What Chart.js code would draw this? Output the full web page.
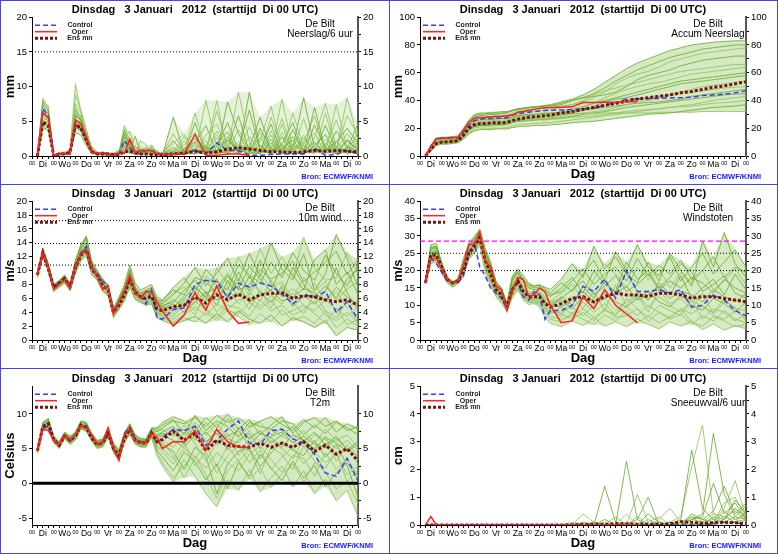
<!DOCTYPE html>
<html>
<head>
<meta charset="utf-8">
<title>EPS De Bilt</title>
<script src="https://cdn.jsdelivr.net/npm/chart.js@4.4.1/dist/chart.umd.min.js"></script>
<style>
body { margin: 0; background: #fff; }
#wrap { position: relative; width: 778px; height: 554px; overflow: hidden; }
#wrap canvas { position: absolute; }
.line { position: absolute; background: #4646f0; z-index: 5; }
</style>
</head>
<body>
<div id="wrap">
  <canvas id="c1" width="390" height="185" style="left:0;top:0"></canvas>
  <canvas id="c2" width="390" height="185" style="left:388px;top:0"></canvas>
  <canvas id="c3" width="390" height="185" style="left:0;top:184px"></canvas>
  <canvas id="c4" width="390" height="185" style="left:388px;top:184px"></canvas>
  <canvas id="c5" width="390" height="185" style="left:0;top:369px"></canvas>
  <canvas id="c6" width="390" height="185" style="left:388px;top:369px"></canvas>
  <div class="line" style="left:0;top:0;width:778px;height:1px"></div>
  <div class="line" style="left:0;top:553px;width:778px;height:1px"></div>
  <div class="line" style="left:0;top:0;width:1px;height:554px"></div>
  <div class="line" style="left:777px;top:0;width:1px;height:554px"></div>
  <div class="line" style="left:389px;top:0;width:1px;height:554px"></div>
  <div class="line" style="left:0;top:184px;width:778px;height:1px"></div>
  <div class="line" style="left:0;top:368px;width:778px;height:1px"></div>
</div>
<script>
// forecast hours after Di 3 jan 00 UTC
const hours = [6,12,18,24,30,36,42,48,54,60,66,72,78,84,90,96,102,108,114,120,126,132,138,144,
  156,168,180,192,204,216,228,240,252,264,276,288,300,312,324,336,348,360];
const dayNames = ["Di","Wo","Do","Vr","Za","Zo","Ma","Di","Wo","Do","Vr","Za","Zo","Ma","Di"];
const title = "Dinsdag   3 Januari   2012  (starttijd  Di 00 UTC)";

// ---- neerslag / 6 uur (mm)
const precipControl = [0,6.8,5.8,0,0.3,0.3,0.3,4.3,4.0,2.5,0.8,0.3,0.5,0.3,0.2,0.3,2.2,1.2,0.3,0.5,0.8,0.8,0.5,0.2,
  0.2,0.3,0.8,0.3,1.9,0.8,0.8,0.1,0.1,0.2,0.3,0.3,0.3,1.1,0.1,0.2,0.8,0.3];
const precipOper = [0,6.2,5.6,0,0.3,0.3,0.3,5.2,4.7,2.8,0.5,0.4,0.4,0.2,0.1,0.3,0.4,2.4,0.5,0.8,0.8,0.8,0.3,0.2,
  0.2,0.3,3.1,0.1,0.1,0.3,0.3,0.1];
const precipMean = [0,4.9,4.4,0,0.3,0.3,0.5,4.6,4.0,2.3,0.6,0.3,0.3,0.3,0.2,0.2,0.6,0.7,0.5,0.3,0.3,0.2,0.2,0.2,
  0.3,0.4,0.7,0.4,0.6,1.0,1.2,1.0,0.8,0.6,0.6,0.5,0.6,0.8,0.7,0.8,0.7,0.6];
const precipMembers = [
  [0,7.8,6.5,0,0.2,0.4,0.6,5.8,5.2,2.2,0.6,0.2,0.3,0.1,0.2,0.4,3.8,1.5,0.3,0.8,1.2,0.6,0.2,0.1, 0.3,0.5,2.5,1.2,0.3,7.8,3.2,0.5,1.5,0.2,2.8,0.6,0.2,4.5,1.2,0.3,2.2,0.8],
  [0,5.2,4.6,0,0.5,0.6,1.0,10.4,6.4,3.2,1.1,0.4,0.6,0.3,0.1,0.3,2.5,3.6,1.0,0.4,0.3,0.4,0.1,0.3, 0.1,1.2,0.6,3.0,4.6,0.8,9.2,2.1,0.4,3.6,0.5,6.2,1.4,0.5,0.6,7.4,1.0,2.6],
  [0,4.2,3.6,0.1,0.3,0.2,0.3,4.2,3.6,1.8,0.4,0.2,0.2,0.3,0.4,0.8,1.6,0.6,1.4,0.6,0.8,0.3,0.2,0.1, 5.6,0.3,1.0,0.2,1.8,3.5,0.4,1.2,5.6,0.8,1.1,2.3,0.3,1.5,3.1,0.4,1.1,4.6],
  [0,8.3,6.8,0.2,0.4,0.3,0.6,6.8,5.6,3.6,0.9,0.3,0.4,0.2,0.2,0.2,4.4,2.2,0.6,1.4,0.4,0.8,0.3,0.2, 1.8,3.2,0.4,8.0,1.2,0.3,1.6,0.3,3.4,0.6,8.2,0.9,1.6,0.5,2.4,0.9,3.2,1.2],
  [0,6.0,5.5,0,0.1,0.5,0.4,3.4,3.0,1.5,0.3,0.5,0.2,0.1,0.3,0.6,0.8,1.2,2.8,0.4,0.2,1.6,0.4,0.2, 0.6,0.2,4.8,0.4,0.5,1.1,5.8,0.6,0.3,1.9,0.4,3.8,0.5,7.0,0.8,2.1,0.3,1.0],
  [0,5.6,5.0,0,0.2,0.3,0.7,7.5,6.2,2.7,0.8,0.2,0.3,0.5,0.3,0.4,2.0,1.0,0.4,2.2,1.6,0.3,0.5,0.3, 0.3,0.8,1.5,0.6,8.0,0.5,0.9,4.2,1.0,0.2,4.6,0.3,2.6,0.6,1.4,5.2,0.6,0.4],
  [0,3.8,4.2,0,0.3,0.2,0.2,5.0,4.3,2.0,0.5,0.3,0.5,0.2,0.1,0.3,3.0,0.8,0.2,0.3,0.5,1.1,0.2,0.4, 2.2,0.4,0.3,1.4,0.6,2.8,0.4,9.2,0.8,4.6,0.3,1.2,8.4,1.1,0.5,2.0,4.0,1.8],
  [0,7.0,6.2,0.1,0.4,0.4,0.5,6.2,4.8,3.0,1.4,0.6,0.3,0.3,0.2,0.5,1.2,2.6,0.8,0.5,0.9,0.6,0.8,0.2, 0.4,2.2,0.5,0.3,3.6,0.8,2.0,0.5,2.2,7.2,0.7,0.4,1.8,3.3,0.4,0.9,5.8,3.0],
  [0,4.6,4.0,0,0.2,0.3,0.4,4.0,3.8,2.4,0.6,0.3,0.4,0.4,0.2,0.2,1.0,0.5,0.4,0.2,0.3,0.2,0.3,0.1, 0.2,0.6,0.3,0.9,0.4,0.6,1.2,0.3,0.5,0.8,1.6,0.5,0.4,0.9,0.6,0.4,0.7,0.5],
  [0,6.6,5.2,0,0.3,0.4,0.8,8.8,6.6,3.8,1.0,0.4,0.2,0.2,0.1,0.3,0.5,0.4,0.3,0.6,0.4,0.3,0.2,0.5, 0.8,0.4,6.2,0.7,2.6,0.3,0.5,1.8,0.6,3.0,0.4,0.8,5.4,0.4,6.2,0.6,1.2,0.3],
  [0,7.4,6.0,0.1,0.3,0.3,0.4,5.4,4.4,2.6,0.7,0.3,0.4,0.2,0.3,0.4,1.8,2.0,0.6,1.0,0.6,0.5,0.4,0.3, 1.2,0.3,1.8,4.4,0.5,2.2,1.0,6.6,0.8,0.4,1.8,4.8,0.6,2.0,0.3,3.6,1.4,0.6],
  [0,5.0,5.8,0,0.4,0.2,0.6,6.0,5.8,2.9,0.6,0.2,0.3,0.4,0.2,0.3,2.8,1.6,0.5,0.3,1.0,0.4,0.3,0.2, 0.5,1.6,3.4,0.4,6.5,1.4,0.3,2.8,0.6,1.2,5.4,0.8,0.4,2.6,7.6,1.2,0.5,1.6],
  [0,6.4,4.8,0,0.2,0.5,0.3,4.6,4.6,2.2,0.5,0.4,0.2,0.2,0.1,0.3,1.4,0.9,0.3,0.7,0.3,0.6,0.2,0.1, 0.3,0.4,0.9,0.6,1.4,4.8,0.8,0.4,4.0,1.0,0.5,2.8,1.0,0.4,1.8,0.6,2.4,0.9],
  [0,8.0,7.2,0.1,0.5,0.4,0.7,7.0,5.0,3.4,1.2,0.5,0.5,0.2,0.2,0.6,3.4,1.8,0.4,0.9,0.8,1.2,0.6,0.3, 3.2,0.6,1.0,2.2,0.4,0.6,3.8,0.9,0.4,5.6,1.2,0.3,3.0,0.5,1.0,0.7,8.4,2.2],
  [0,4.8,4.4,0,0.3,0.3,0.5,5.6,5.4,2.6,0.9,0.3,0.4,0.3,0.2,0.2,2.2,1.4,0.6,0.4,0.5,0.7,0.3,0.2, 0.2,1.0,2.0,0.5,0.8,2.4,0.6,1.4,0.3,2.4,0.6,1.6,0.8,0.4,4.4,0.8,0.6,2.0],
  [0,5.9,6.2,0,0.2,0.4,0.6,6.6,5.0,3.2,0.8,0.3,0.3,0.2,0.3,0.4,3.2,1.2,0.8,0.6,0.9,0.4,0.2,0.4, 0.7,2.8,0.6,1.6,3.0,0.4,1.6,0.8,2.6,0.5,3.4,1.0,2.0,5.8,0.7,1.4,0.4,3.6]
];
const precipRefs = [15];

// ---- geaccumuleerde neerslag (mm)
const accumControl = [0,7,12.5,12.8,12.8,13,13.2,17.5,22,25.5,26.5,27,27,27.2,27.3,27.5,29.5,30.5,31,31.5,32,32.5,32.8,33,
  33.2,33.5,34,34.5,36.5,38.5,41,41.2,41.3,41.5,41.8,42,42.3,43.5,44,44.5,45.5,47];
const accumOper = [0,6.5,12.5,12.8,13,13.3,13.6,18.5,24,27.2,27.8,28,28.3,28.5,28.6,29,29.5,31.5,32,32.8,33.6,34.4,34.8,35,
  35.2,35.4,38.5,38.6,38.7,38.8,39,39.2];
const accumMean = [0,5,9,10,10.2,10.5,11,15,20,22.5,23.3,23.5,23.8,24,24,24.2,25.5,26.5,27.2,28,28.3,28.6,29,29.5,
  31,32,33.5,35,36.5,38,39.5,41,42,43,44,45.5,46.5,48,49.5,50.5,52,53.5];
const accumMembers = [
  [0,8,13,13.5,13.5,14,14.5,20,26,30,31,31,31.5,31.5,32,32,33,34,34.5,35,35.5,36,36.5,37, 39,41,44,48,53,58,63,67,70,73,76,78,80,81,82,82.5,83,83],
  [0,6,11,12,12,12.5,13,17,23,27,28,28,28.5,29,29,29.5,31,32.5,33,33.5,34,34,34.5,35, 36,37,39,42,46,52,56,59,61,64,68,70,72,74,75,76,77,78],
  [0,7,12,12.5,13,13,13.5,19,25,28,29,29.5,30,30,30.5,31,33,34,34.5,35,35.5,35.5,36,36, 37,40,42,43,44,46,50,55,58,60,62,65,67,69,70,71,72,72],
  [0,5.5,10,11,11,11.5,12,15,20,23,24,24,24.5,24.5,25,25,27,28,28.5,29,29.5,30,30,30.5, 32,34,36,38,42,45,48,50,52,53,55,57,59,60,61,62,63,64],
  [0,5,9,10,10,10.5,11,14,19,21.5,22.5,22.5,23,23,23.5,23.5,25,26,26.5,27,27.5,28,28,28.5, 29.5,31,33,36,39,41,42,44,46,48,50,52,53,54,55,56,57,58],
  [0,4.5,9,9.5,10,10,10.5,13,17,20,21,21,21.5,22,22,22.5,24,25,25.5,26,26.5,27,27,27.5, 28.5,30,31,32,33,35,37,39,40,42,44,46,48,50,51,52,53,54],
  [0,5,10,11,11,11.5,12,16,22,25,26,26,26.5,26.5,27,27,28,29,29.5,30,30,30.5,31,31, 31.5,32,33,34,35,36,37,38,38.5,39,40,41,43,44,45,46,47,48],
  [0,4,8,9,9,9.5,10,12.5,16.5,18.5,19.5,19.5,20,20,20,20.5,21.5,22.5,23,23,23.5,23.5,24,24, 25,26,27,28,29,30,31,32,33,34,35,36,37,38.5,40,41,42,43],
  [0,3.5,7.5,8.5,8.5,9,9.5,12,16,18,19,19,19,19.5,19.5,19.5,20.5,21,21.5,21.5,22,22,22,22.5, 23,24,24.5,25,26,27,28,29,30,30.5,31,32,33,34,35,35.5,36,37],
  [0,6,11,12,12,12.5,13,17,22,26,27,27,27.5,27.5,28,28,29,29.5,29.5,30,30,30,30.5,30.5, 30.5,30.5,30.5,30.5,31,31,31,31,31,31.5,31.5,31.5,31.5,32,32,32,32,32],
  [0,7.5,12.5,13,13.5,13.5,14,19.5,25.5,29,30,30.5,30.5,31,31,31.5,32.5,33.5,34,34.5,35,35.5,36,36.5, 38,40,42,45,49,54,58,62,65,68,71,73,75,77,78,79,80,80],
  [0,6.5,11.5,12,12.5,12.5,13,17.5,23,26.5,27.5,27.5,28,28,28.5,28.5,30,31,31.5,32,32.5,32.5,33,33.5, 35,37,40,44,47,49,51,53,55,57,59,61,62,63,64,65,66,66],
  [0,5,9.5,10.5,10.5,11,11.5,15,20,22.5,23.5,23.5,24,24,24.5,24.5,26,27,27.5,28,28,28.5,29,29, 30.5,32,35,38,40,42,44,46,48,50,52,54,55,56,57,58,59,60],
  [0,6,10.5,11.5,11.5,12,12.5,16,21,24,25,25,25.5,25.5,26,26,27.5,28.5,29,29.5,29.5,30,30,30.5, 31,32,33.5,35,36.5,38,39.5,41,42,43,44,45,46,47,48,49,49.5,50],
  [0,4,8.5,9.5,9.5,10,10.5,14,18.5,21,22,22,22.5,22.5,23,23,24,25,25.5,26,26,26.5,26.5,27, 27.5,28.5,30,31,32,33.5,35,36,37,38,39,40,41,42,43,44,44.5,45],
  [0,5.5,9.5,10.5,10.5,11,11.5,14.5,19,21,22,22,22.5,22.5,22.5,23,24,25,25,25.5,25.5,26,26,26.5, 27,28,28.5,29,30,31,32,33,33.5,34,35,35.5,36,37,38,38.5,39,40]
];

// ---- 10m wind (m/s)
const windControl = [9.4,12.6,10.5,7.5,8.3,9.0,7.6,10.5,12.5,13.5,10.5,9.5,8.5,7.8,4.0,5.5,7.0,9.0,7.0,6.3,5.2,7.2,3.2,3.0,
  4.4,4.6,8.0,8.6,8.4,6.2,8.2,7.6,8.2,7.8,6.6,5.2,6.5,6.2,7.0,4.0,5.5,3.0];
const windOper = [9.4,12.6,10.5,7.3,8.0,8.7,7.5,10.5,12.3,13.0,10.3,9.3,7.3,7.8,3.8,5.5,7.0,9.3,6.8,6.0,7.0,6.9,5.5,4.2,
  2.0,3.6,6.8,4.3,7.8,4.2,2.4,2.6];
const windMean = [9.4,12.6,10.3,7.6,8.2,8.8,7.7,10.5,12.2,13.0,10.2,9.3,7.8,7.2,4.0,5.0,6.5,8.8,6.8,6.2,6.0,6.3,4.5,4.2,
  4.8,5.0,6.2,5.3,6.5,5.8,6.6,5.8,6.5,6.7,6.8,6.0,6.4,6.2,5.8,5.5,5.8,5.0];
const windMembers = [
  [9.2,13.0,10.8,7.8,8.5,9.2,8.0,11.2,13.5,14.8,11.0,9.8,8.6,7.8,4.4,6.0,7.5,10.2,7.6,6.8,7.0,7.4,5.6,5.2, 6.5,8.2,10.5,7.8,9.6,11.8,8.5,12.5,9.2,14.0,10.2,8.6,12.4,7.2,9.5,15.2,11.8,7.6],
  [9.6,12.2,10.0,7.2,7.8,8.4,7.3,9.8,11.8,12.5,9.6,8.8,7.2,6.6,3.6,4.6,6.0,8.0,6.2,5.8,5.4,5.6,3.8,3.4, 2.6,3.6,4.8,3.5,5.2,4.2,3.8,5.4,4.4,5.8,3.6,4.2,5.0,3.8,2.4,4.6,2.2,3.0],
  [9.4,12.8,10.6,7.6,8.3,9.0,7.8,10.8,12.6,13.4,10.6,9.4,8.2,7.4,4.2,5.4,7.0,9.4,7.2,6.5,6.6,6.8,5.0,4.8, 5.8,4.8,7.5,6.2,8.8,6.0,9.8,7.0,11.5,8.2,6.4,10.5,8.0,6.2,7.8,6.0,8.8,10.2],
  [9.0,12.4,10.2,7.4,8.0,8.6,7.4,10.2,12.0,12.8,10.0,9.0,7.6,7.0,3.6,4.8,6.2,8.4,6.4,5.6,5.0,5.8,4.0,3.8, 3.4,5.2,3.6,6.8,4.0,5.6,6.8,4.4,7.2,4.6,8.0,5.4,3.8,6.6,4.2,3.2,5.6,2.2],
  [9.8,13.2,11.0,8.0,8.6,9.4,8.2,11.5,13.8,15.0,11.4,10.0,8.8,8.0,4.6,6.2,8.0,10.8,8.2,7.2,7.6,8.0,6.2,5.8, 7.2,6.5,9.0,8.4,6.8,9.2,7.4,10.6,8.8,7.0,11.0,9.4,7.2,11.6,13.0,8.0,9.8,6.6],
  [9.3,12.6,10.4,7.5,8.2,8.8,7.6,10.4,12.4,13.2,10.4,9.2,7.8,7.2,4.0,5.2,6.6,8.8,6.8,6.2,6.2,6.4,4.6,4.2, 4.2,5.8,6.0,4.8,6.4,7.6,5.2,6.8,5.6,8.6,6.2,7.4,6.0,8.2,5.4,7.0,4.6,5.8],
  [9.5,12.0,9.8,7.0,7.6,8.2,7.1,9.6,11.4,12.2,9.4,8.6,7.0,6.4,3.2,4.4,5.6,7.6,5.8,5.4,5.0,5.2,3.2,2.8, 2.2,2.8,3.4,2.4,3.8,2.6,4.2,3.0,2.4,3.6,2.0,3.2,2.6,1.8,2.8,0.6,1.8,1.4],
  [9.1,12.9,10.9,7.9,8.4,9.3,7.9,11.0,13.2,14.2,10.8,9.6,8.4,7.6,4.3,5.8,7.2,9.8,7.4,6.6,6.8,7.2,5.8,5.4, 6.8,7.6,5.8,9.2,7.8,6.4,8.8,6.4,9.4,7.6,8.4,6.0,9.0,7.0,8.4,5.6,7.4,8.4],
  [9.4,12.5,10.3,7.6,8.1,8.9,7.7,10.6,12.8,13.6,10.2,9.2,8.0,7.2,3.8,5.0,6.4,9.0,7.0,6.0,5.8,6.0,4.4,4.6, 5.2,4.0,5.4,7.0,5.0,8.6,6.2,9.2,6.8,5.4,7.6,4.8,6.4,5.2,7.0,10.4,6.8,4.4],
  [9.7,13.1,10.7,7.7,8.4,9.1,8.0,11.4,13.6,14.4,10.9,9.9,8.4,7.6,4.1,5.6,6.8,9.6,7.0,6.4,6.4,6.6,5.2,4.8, 4.6,6.4,7.0,5.6,10.4,8.0,12.0,8.8,13.2,9.6,12.0,9.0,14.8,10.4,8.6,9.0,12.6,9.6],
  [9.2,12.7,10.6,7.7,8.2,9.1,7.8,10.9,13.0,14.0,10.7,9.6,8.3,7.5,4.3,5.7,7.3,9.6,7.3,6.6,6.8,7.0,5.4,5.0, 5.4,7.2,8.6,6.8,7.4,9.6,7.2,8.0,10.2,8.8,9.6,11.4,8.4,9.8,11.2,12.8,9.4,11.6],
  [9.5,12.3,10.1,7.3,7.9,8.6,7.5,10.0,12.0,12.8,9.8,9.0,7.4,6.8,3.7,4.8,6.2,8.2,6.4,5.9,5.6,5.8,4.0,3.6, 3.0,4.2,5.6,4.4,3.2,5.0,4.6,3.4,5.8,4.2,5.0,3.6,4.4,5.6,3.6,2.8,4.0,2.6],
  [9.6,12.9,10.8,7.8,8.5,9.2,7.9,11.1,13.3,14.6,11.1,9.8,8.5,7.7,4.4,5.9,7.6,10.0,7.5,6.7,7.2,7.6,5.8,5.6, 7.6,9.0,6.8,10.2,8.4,7.2,10.8,9.4,8.2,11.2,9.0,12.6,10.0,8.6,12.2,9.6,7.8,10.8],
  [9.3,12.4,10.2,7.4,8.1,8.8,7.5,10.3,12.2,13.0,10.1,9.1,7.7,7.1,3.9,5.1,6.5,8.6,6.6,6.0,5.8,6.2,4.2,4.0, 3.8,5.6,4.2,5.8,6.8,4.4,5.8,6.2,4.8,6.4,5.2,6.8,5.0,4.2,5.8,4.4,3.4,4.8],
  [9.4,12.6,10.5,7.6,8.3,9.0,7.7,10.7,12.7,13.5,10.5,9.4,8.1,7.3,4.1,5.3,6.9,9.2,7.1,6.3,6.4,6.6,4.8,4.4, 4.8,6.0,7.8,6.0,5.8,6.6,7.8,5.4,6.4,7.2,5.6,6.2,7.4,6.8,5.6,7.6,6.2,5.0],
  [9.0,12.1,9.9,7.1,7.7,8.3,7.2,9.7,11.6,12.4,9.5,8.7,7.1,6.5,3.4,4.5,5.8,7.8,6.0,5.6,5.2,5.4,3.6,3.2, 2.4,3.2,2.6,4.0,2.8,4.4,3.4,2.2,3.8,2.6,4.4,2.8,3.4,2.4,4.2,1.8,3.0,2.0]
];
const windRefs = [10.8, 13.9, 17.2];

// ---- windstoten (m/s)
const gustControl = [16.5,23.5,22,19.5,17,16.5,16.5,18.5,25,28,21,18.5,15,13.5,12,9,14.5,16.5,12.5,11.5,14,13,6,8.5,
  8.5,10,15.5,14,17.5,12,20,14,14,14.5,13.5,14.5,9.5,10,13,11.5,8.5,7];
const gustOper = [16.5,23.5,23.5,20.5,17.5,16.5,17,21.5,27.5,27.5,31,23,21,15.5,14.5,8.5,14,18,17.5,12.5,13,15,14,10,
  5,5.5,12.5,9,14.5,10,7.5,5];
const gustMean = [16.5,24.5,24.5,21,17.5,16.5,17,20,25,27,29.5,23,19,14.5,13,9.5,14.5,17,14,12.5,12.5,12.5,10.5,9.5,
  10.5,12,12.5,11,12.5,13.5,13,13,12.5,13.5,13.5,13,12,12.5,12.5,12,11.5,11];
const gustMembers = [
  [16.8,27.5,27.8,22,18,16.8,17.6,23.5,28,29.8,32,26.5,22.5,16.5,14.8,10.8,18.5,20.5,18.6,16.4,15.6,15.8,15.2,14.6, 17.5,22,18,27,20.5,24,19,16.5,22.5,17,25,20,15.5,28.5,21,31,22,18],
  [16.2,22,22.5,19.2,16.4,15.2,16.2,18.2,23.2,25,27.2,19.5,15.5,12.5,10.5,8.2,12.2,14.4,11.5,10.2,10.5,9.5,6.5,4.8, 3.8,5.5,4.2,6.5,4,5.2,3.8,6,4.5,3.2,5.2,4,5.5,3,4.6,2.8,4.2,3.2],
  [16.5,25,25.5,21.5,17.8,16.4,17.2,21,25.8,27.8,30.2,23.5,19.5,15,13.5,9.8,15,17.5,14.5,13,12.8,13.2,11,9.5, 12.5,10,15.5,12,17,13.5,19.5,14,11.5,16.5,13,18.5,12,15,17.5,13,19,14.5],
  [16.4,23.5,23.8,20.2,17,15.8,16.6,19.2,24.2,26.2,28.5,21.5,17.5,13.5,12,9,13.5,15.5,12.8,11.5,11.2,11,8.5,7.5, 9.5,7.5,11,8,10.5,7,12,9,6.5,10,8.5,7,11.5,6,9,8,5.5,7.5],
  [16.6,26.2,26.5,21.8,17.6,16.2,17.4,22.2,27,28.8,31.2,24.8,21.2,16,14,10.2,17,19.2,16.8,15,14.5,14.8,13.5,12.5, 15,18,13.5,20,16,14,22.5,17.5,20,15,18,22,19.5,14,16,18.5,13.5,12],
  [16.3,24.5,24.8,20.8,17.2,16,16.8,20,24.8,26.8,29.2,22.2,18.5,14.2,12.8,9.4,14,16.5,13.5,12,11.8,12,9.8,8.5, 6.8,12.5,9,14,8.5,16,10,13,8,14.5,10.5,12,9,13.5,7.5,11,9.5,5.5],
  [16.7,26.8,27,22.4,18.2,16.6,17.8,22.8,27.5,29.2,31.6,25.5,22,17,15,10.5,18,20,17.5,16,15.5,16,14.8,13.5, 16.5,14,19,23,17,25.5,20,27.5,21,18.5,24,17,21,25,19,22.5,26,21],
  [16.1,22.8,23,19.6,16.6,15.4,16.4,18.8,23.5,25.5,27.8,20.5,16.5,12.8,11,8.6,12.8,14.8,12,10.8,10.8,10.2,7.5,6, 5.2,8,6,4.5,7.2,5.5,8.5,4.8,7,5,6.5,9,5.2,4,6.8,5.5,3.8,4.5],
  [16.5,24,24.2,21,17.4,16.2,17,20.6,25.4,27.4,29.8,23,18.8,14.5,13,9.6,14.5,16.8,14,12.5,12.2,12.5,10.4,10.2, 11.5,9,12.5,10.5,13.5,11,9.5,12,14,11,9.5,13,10,8.5,12,10.5,8,11],
  [16.9,25.8,26,22,18,16.6,17.2,21.6,26.5,28.4,30.6,24.2,20.5,15.5,13.8,10,16.2,18.4,15.6,14,13.5,14,12.5,11.2, 13.5,16,11.5,17.5,22,19,15,21,17.5,20.5,15,19.5,16.5,20,14.5,17,20.5,16],
  [16.6,25.2,25.6,21.2,17.6,16.3,17.1,21.2,26,28,30.4,23.8,19.8,15.2,13.6,9.9,15.6,18,15,13.4,13.2,13.6,11.8,10.8, 12,14.5,17,13,15.5,18.5,14,16,19,14.5,17,15,18,16.5,13.5,17.5,15,13.5],
  [16.4,23,23.4,20,16.8,15.6,16.5,19,23.8,25.8,28,21,17,13.2,11.6,8.8,13,15,12.4,11,11,10.6,8,6.8, 6,7,9,6.5,8.5,7.5,9.5,7,10,8,6.5,9,7.5,10,7,6,8.5,6],
  [16.8,26.5,26.8,22.2,18,16.5,17.6,22.5,27.2,29,31.4,25.2,21.6,16.5,14.5,10.4,17.5,19.6,17.2,15.5,15,15.4,14.2,13, 14,17,20.5,16,19,21,17,23.5,18.5,21.5,19,23,17.5,20,24,18,21,19.5],
  [16.2,23.2,23.5,19.8,16.8,15.6,16.6,19.6,24,26,28.2,21.2,17.2,13.6,12.2,9.2,13.6,15.8,13,11.8,11.5,11.5,9,8, 8,9.5,7,10,12,8.5,11,13,9.5,12.5,10,8,11.5,9.5,8,12,9,8.5],
  [16.5,24.8,25.2,21.2,17.6,16.4,17,20.8,25.6,27.6,30,23.2,19.2,14.8,13.2,9.7,15.2,17.5,14.6,13,12.8,13,11.2,10, 9.5,11.5,14,11,12,13.5,15.5,11.5,13,15.5,12,14,13,11,14.5,12.5,11,13.5],
  [16.3,23.8,24,20.6,17.2,16,16.8,19.8,24.6,26.6,29,22,18,14,12.4,9.2,14,16.2,13.2,11.8,11.6,11.8,9.2,8.8, 7.5,6,8,5.5,9,6.5,7,9,5.5,8,6,7.5,4.5,7,5.5,8.5,6,5]
];
const gustRefs = [20, 25];
const gustWarning = [28.5];

// ---- T2m (Celsius)
const tempControl = [4.7,8.0,8.2,6.3,5.5,7.0,6.0,6.8,8.4,8.3,6.8,5.5,5.8,7.3,5.0,3.5,7.2,8.0,6.5,6.0,5.8,7.3,5.8,6.6,
  7.8,7.6,8.2,5.5,6.2,7.8,9.0,5.8,5.6,7.6,7.8,6.4,5.8,4.2,1.5,1.0,3.6,0.3];
const tempOper = [4.7,7.8,7.6,6.2,5.6,6.8,6.2,7.0,8.3,8.0,7.0,5.6,5.8,8.0,5.0,3.3,7.0,7.8,6.2,5.8,5.8,7.2,6.6,5.0,
  6.0,6.0,7.6,4.8,7.8,6.0,5.2,5.2];
const tempMean = [4.7,8.2,8.6,6.3,5.5,6.8,6.2,6.8,8.4,8.0,6.5,5.6,5.8,7.3,5.0,4.0,6.5,7.8,6.2,5.8,5.8,7.3,6.0,6.3,
  7.5,6.2,7.2,4.7,6.2,5.5,5.3,5.2,5.8,5.2,5.8,5.2,6.0,4.6,5.5,4.2,5.0,3.2];
const tempMembers = [
  [4.6,8.6,9.0,6.6,5.8,7.2,6.6,7.2,8.8,8.5,7.0,6.0,6.2,7.8,5.5,4.5,7.0,8.4,6.6,6.2,6.2,7.8,7.4,8.0, 9.0,8.6,9.5,8.2,9.8,8.8,9.4,8.2,9.0,9.6,8.5,7.6,9.2,8.0,9.5,7.4,8.6,7.8],
  [4.3,7.6,7.9,5.8,5.0,6.4,5.6,6.2,7.8,7.5,6.0,5.0,5.2,6.6,4.4,3.2,5.8,7.0,5.6,5.2,5.2,6.6,4.0,2.5, 0.2,3.5,1.0,-1.5,-3.4,0.5,-1.0,2.0,-1.2,0.8,2.5,-0.5,1.8,-1.5,0.6,-2.5,-1.0,-4.8],
  [4.8,8.3,8.8,6.5,5.6,7.0,6.4,7.0,8.6,8.2,6.7,5.8,6.0,7.5,5.2,4.2,6.7,8.0,6.4,6.0,6.0,7.5,6.8,7.4, 8.2,5.6,8.4,6.0,7.2,5.2,8.0,6.5,7.6,5.8,7.0,8.2,6.0,7.4,5.5,6.8,4.8,6.0],
  [4.5,7.9,8.3,6.1,5.3,6.6,6.0,6.6,8.1,7.8,6.3,5.4,5.6,7.0,4.8,3.7,6.2,7.5,6.0,5.6,5.5,7.0,5.4,5.0, 3.5,6.0,2.5,4.6,1.5,4.0,5.5,3.0,4.8,2.0,3.8,5.2,2.8,4.5,3.0,4.2,1.2,2.5],
  [4.7,8.8,9.4,6.8,6.0,7.4,6.8,7.4,9.0,8.8,7.2,6.2,6.4,8.0,5.8,4.8,7.3,8.6,7.0,6.5,6.4,8.0,8.0,8.8, 9.6,9.0,7.5,9.5,8.0,10.0,7.8,9.2,7.0,8.4,9.6,7.2,8.8,9.5,8.2,9.0,7.6,8.2],
  [4.6,8.1,8.5,6.3,5.4,6.8,6.2,6.8,8.3,8.0,6.5,5.6,5.8,7.2,5.0,3.9,6.4,7.7,6.2,5.8,5.7,7.2,6.0,6.2, 5.2,7.4,5.8,3.2,6.0,7.2,4.0,6.6,3.5,6.2,5.0,3.6,6.4,4.8,6.8,3.2,5.6,4.0],
  [4.4,7.7,8.1,5.9,5.2,6.5,5.8,6.4,8.0,7.6,6.2,5.2,5.4,6.8,4.6,3.4,6.0,7.2,5.8,5.4,5.4,6.8,4.8,3.8, 1.8,4.5,3.2,0.5,2.8,-0.8,3.0,1.0,4.2,2.2,0.4,3.2,0.8,2.6,-0.5,1.5,3.0,0.6],
  [4.9,8.5,8.9,6.7,5.9,7.3,6.7,7.3,8.9,8.6,7.1,6.1,6.3,7.9,5.6,4.6,7.1,8.5,6.8,6.3,6.3,7.9,7.6,7.8, 6.8,8.4,6.6,8.8,7.0,9.4,6.8,8.0,8.8,7.0,8.0,6.4,7.6,5.8,7.8,6.2,7.0,5.2],
  [4.5,8.0,8.4,6.2,5.4,6.7,6.1,6.7,8.2,7.9,6.4,5.5,5.7,7.1,4.9,3.8,6.3,7.6,6.1,5.7,5.6,7.1,5.7,5.6, 4.6,2.0,5.2,4.0,-1.5,2.8,4.6,5.0,2.4,4.4,6.0,4.8,4.0,6.2,3.8,5.6,2.6,-2.0],
  [4.7,8.2,8.6,6.4,5.6,6.9,6.3,6.9,8.4,8.1,6.6,5.7,5.9,7.4,5.1,4.0,6.5,7.8,6.3,5.9,5.8,7.4,6.4,6.8, 7.8,6.4,8.8,7.0,8.6,6.4,5.8,7.6,6.0,7.8,6.8,6.0,5.4,7.0,6.4,5.0,6.2,4.8],
  [4.6,8.4,8.7,6.4,5.7,7.1,6.5,7.1,8.6,8.3,6.8,5.9,6.1,7.6,5.3,4.3,6.8,8.1,6.5,6.1,6.1,7.6,7.0,7.2, 7.0,7.8,6.2,7.4,5.6,6.8,7.6,5.4,7.2,6.6,5.2,7.0,6.2,5.0,6.6,5.8,4.6,5.6],
  [4.4,7.8,8.0,5.9,5.1,6.5,5.7,6.3,7.9,7.6,6.1,5.1,5.3,6.7,4.5,3.3,5.9,7.1,5.7,5.3,5.3,6.7,4.4,3.0, 0.8,2.6,4.0,1.2,-2.2,1.8,3.4,0.6,2.2,-0.6,1.4,2.8,0.2,3.0,1.6,-0.8,0.4,-3.0],
  [4.8,8.7,9.2,6.7,5.9,7.3,6.7,7.3,8.9,8.7,7.1,6.1,6.3,7.9,5.7,4.7,7.2,8.5,6.9,6.4,6.3,7.9,7.8,8.4, 9.2,7.0,9.8,7.6,9.0,8.2,6.6,8.8,8.2,7.8,9.0,8.6,7.0,8.4,7.2,8.8,8.0,7.0],
  [4.5,8.0,8.3,6.1,5.3,6.6,6.0,6.6,8.1,7.8,6.3,5.3,5.5,6.9,4.7,3.6,6.1,7.4,5.9,5.5,5.5,6.9,5.2,4.6, 2.8,5.0,3.8,2.2,4.4,3.0,1.8,4.2,5.4,3.4,1.6,4.0,3.6,1.0,4.4,2.0,3.6,1.0],
  [4.7,8.3,8.7,6.4,5.6,6.9,6.3,6.9,8.4,8.1,6.6,5.7,5.9,7.4,5.1,4.1,6.6,7.9,6.3,5.9,5.9,7.4,6.6,7.0, 6.2,5.2,7.0,5.6,7.8,4.8,6.2,7.2,5.0,6.8,7.4,5.8,6.8,5.6,5.2,6.4,5.0,3.8],
  [4.6,8.1,8.5,6.3,5.5,6.8,6.2,6.7,8.3,8.0,6.5,5.5,5.7,7.2,5.0,3.9,6.3,7.6,6.2,5.7,5.7,7.2,5.8,5.9, 4.0,0.8,3.6,5.6,2.4,5.4,3.2,4.8,1.4,5.2,4.2,2.0,5.4,3.2,2.2,4.6,0.2,2.0]
];
const tempZero = [0];

// ---- sneeuwval / 6 uur (cm)
const snowControl = [0,0,0,0,0,0,0,0,0,0,0,0,0,0,0,0,0,0,0,0,0,0,0,0, 0,0,0,0,0,0,0,0,0,0,0,0,0,0,0.05,0.1,0.1,0];
const snowOper = [0,0.3,0,0,0,0,0,0,0,0,0,0,0,0,0,0,0,0,0,0,0,0,0,0, 0,0,0,0,0,0,0,0];
const snowMean = [0,0,0,0,0,0,0,0,0,0,0,0,0,0,0,0,0,0,0,0,0,0,0,0, 0,0.01,0.02,0.03,0.02,0.05,0.04,0.03,0.04,0.02,0.04,0.12,0.1,0.06,0.08,0.1,0.08,0.04];
const snowMembers = [
  [0,0,0,0,0,0,0,0,0,0,0,0,0,0,0,0,0,0,0,0,0,0,0,0, 0,0,0.1,0,1.4,0.1,0,0,0,0,0.1,0,0.2,0.3,1.5,0.4,0.8,0.2],
  [0,0,0,0,0,0,0,0,0,0,0,0,0,0,0,0,0,0,0,0,0,0,0,0, 0,0,0.4,0.1,0,0,0.4,0,0.2,0,0,0.1,0.3,0,0.3,0.2,0.6,0.1],
  [0,0,0,0,0,0,0,0,0,0,0,0,0,0,0,0,0,0,0,0,0,0,0,0, 0,0,0,0,0.2,0,2.3,0.2,0,0.1,0,0,0.4,0.2,0.5,1.4,0.4,0.8],
  [0,0,0,0,0,0,0,0,0,0,0,0,0,0,0,0,0,0,0,0,0,0,0,0, 0,0,0,0,0,0.3,0,1.1,0.1,0.3,0,0,0,0.1,0.2,0.6,1.6,0.3],
  [0,0,0,0,0,0,0,0,0,0,0,0,0,0,0,0,0,0,0,0,0,0,0,0, 0,0,0,0.1,0,0,0,0.2,1.0,0,0.1,0,0,0,0.3,0.2,0.9,0.4],
  [0,0,0,0,0,0,0,0,0,0,0,0,0,0,0,0,0,0,0,0,0,0,0,0, 0,0,0,0,0,0,0.1,0,0,0.2,0.6,0.1,0,0.2,0.1,0.3,0.2,0.1],
  [0,0,0,0,0,0,0,0,0,0,0,0,0,0,0,0,0,0,0,0,0,0,0,0, 0,0,0,0,0,0,0,0,0.4,0.1,0,0.2,2.7,0.6,0.2,0.1,0.3,0.7],
  [0,0,0,0,0,0,0,0,0,0,0,0,0,0,0,0,0,0,0,0,0,0,0,0, 0,0,0,0,0,0,0,0,0,0,0.1,0.3,2.1,3.6,0.4,0.3,0.5,0.2],
  [0,0,0,0,0,0,0,0,0,0,0,0,0,0,0,0,0,0,0,0,0,0,0,0, 0,0,0,0,0,0,0,0,0,0.1,0,0,0.2,0.4,3.3,1.1,0.3,0.2],
  [0,0,0,0,0,0,0,0,0,0,0,0,0,0,0,0,0,0,0,0,0,0,0,0, 0,0,0,0,0,0,0,0,0,0,0,0,0.1,0,0.1,0.8,1.0,0.3],
  [0,0,0,0,0,0,0,0,0,0,0,0,0,0,0,0,0,0,0,0,0,0,0,0, 0,0,0,0,0,0,0,0,0,0,0.1,0,0.3,0.2,0.1,0.5,0.2,0.4],
  [0,0,0,0,0,0,0,0,0,0,0,0,0,0,0,0,0,0,0,0,0,0,0,0, 0,0,0,0,0,0,0,0.3,0,0,0,0,0,0.1,0.4,0.3,0.1,0.2],
  [0,0,0,0,0,0,0,0,0,0,0,0,0,0,0,0,0,0,0,0,0,0,0,0, 0,0,0,0,0,0,0,0,0,0,0,0.1,0,0,0,0.2,0.6,0.3],
  [0,0,0,0,0,0,0,0,0,0,0,0,0,0,0,0,0,0,0,0,0,0,0,0, 0,0.1,0,0,0.1,0,0,0,0,0,0,0,0.2,0.1,0,0,0.1,0.5]
];

const greens = ["rgba(112,172,52,0.85)", "rgba(146,196,96,0.85)"];
const font = "'Liberation Sans', Arial, sans-serif";
const narrow = "'Liberation Sans Narrow', 'Liberation Sans', Arial, sans-serif";

Chart.defaults.font.family = font;
Chart.defaults.color = "#000";
Chart.defaults.elements.point.radius = 0;
Chart.defaults.elements.line.tension = 0;

function series(values) {
  return values.map((v, i) => ({ x: hours[i], y: v }));
}

function flatLine(value) {
  return [{ x: 0, y: value }, { x: 360, y: value }];
}

// spread of the plume at each time step, taken from the members
function spread(members, pick) {
  return hours.map((h, i) => pick(...members.map(m => m[i])));
}

// legend, station name and source, drawn on top of the plot
const panelText = {
  id: "panelText",
  afterDraw(chart, args, opts) {
    const ctx = chart.ctx;
    const ca = chart.chartArea;
    ctx.save();
    const items = [
      ["Control", "#3a3aff", [5, 3], 1.5],
      ["Oper", "#ff2020", [], 1.5],
      ["Ens mn", "#7a1010", [3, 2], 3]
    ];
    items.forEach((it, i) => {
      const y = ca.top + 8 + i * 6.5;
      ctx.beginPath();
      ctx.setLineDash(it[2]);
      ctx.strokeStyle = it[1];
      ctx.lineWidth = it[3];
      ctx.moveTo(ca.left + 3, y);
      ctx.lineTo(ca.left + 25, y);
      ctx.stroke();
      ctx.setLineDash([]);
      ctx.fillStyle = "#222";
      ctx.font = "bold 7px " + font;
      ctx.textAlign = "center";
      ctx.textBaseline = "middle";
      ctx.fillText(it[0], ca.left + 48, y);
    });
    ctx.fillStyle = "#000";
    ctx.font = "10px " + font;
    ctx.textAlign = "center";
    ctx.fillText("De Bilt", ca.right - 38, ca.top + 7);
    ctx.fillText(opts.name, ca.right - 38, ca.top + 17.5);
    ctx.fillStyle = "#1a1aff";
    ctx.font = "bold 7.5px " + font;
    ctx.textAlign = "right";
    ctx.fillText("Bron: ECMWF/KNMI", ca.right + 15, ca.bottom + 21);
    ctx.restore();
  }
};

function makePanel(id, p) {
  const datasets = [];
  if (p.shade) {
    datasets.push({ data: series(spread(p.members, Math.min)), borderWidth: 0, fill: false, order: 12 });
    datasets.push({ data: series(spread(p.members, Math.max)), borderWidth: 0, fill: "-1",
      backgroundColor: "rgba(150,200,105," + p.shade + ")", order: 12 });
  }
  p.members.forEach((m, i) => {
    datasets.push({ data: series(m), borderColor: greens[i % 2], borderWidth: 1, order: 10 });
  });
  (p.refs || []).forEach(r => {
    datasets.push({ data: flatLine(r), borderColor: "#000", borderWidth: 1, borderDash: [1, 2], order: 4 });
  });
  (p.warn || []).forEach(r => {
    datasets.push({ data: flatLine(r), borderColor: "#ff00ff", borderWidth: 1.2, borderDash: [5, 3], order: 4 });
  });
  (p.zero || []).forEach(r => {
    datasets.push({ data: flatLine(r), borderColor: "#000", borderWidth: 3, order: 4 });
  });
  datasets.push({ data: series(p.mean), borderColor: "#7a1010", borderWidth: 3, borderDash: [3, 2], order: 2 });
  datasets.push({ data: series(p.control), borderColor: "#3a3aff", borderWidth: 1.5, borderDash: [5, 3], order: 3 });
  datasets.push({ data: series(p.oper), borderColor: "#ff2020", borderWidth: 1.5, order: 1 });

  const minor = [];
  for (let i = 0; i < p.ticks.length; i++) {
    minor.push(p.ticks[i]);
    if (i < p.ticks.length - 1) minor.push((p.ticks[i] + p.ticks[i + 1]) / 2);
  }
  const xTicks = [];
  for (let h = 0; h <= 360; h += 6) xTicks.push(h);

  new Chart(document.getElementById(id), {
    type: "line",
    data: { datasets },
    options: {
      responsive: false,
      animation: false,
      layout: { padding: 0 },
      plugins: {
        legend: { display: false },
        tooltip: { enabled: false },
        title: {
          display: true, text: title, color: "#000",
          font: { size: 11, weight: "bold" }, padding: { top: 3, bottom: 1 }
        },
        panelText: { name: p.name }
      },
      scales: {
        x: {
          type: "linear", min: 0, max: 360,
          afterBuildTicks: s => { s.ticks = xTicks.map(v => ({ value: v })); },
          afterFit: s => { s.height = 29; },
          ticks: {
            autoSkip: false, maxRotation: 0, padding: 1,
            font: c => (c.tick && c.tick.value % 24 === 0) ? { size: 5.5 } : { size: 8.5 },
            callback: v => v % 24 === 0 ? "00" : (v % 24 === 12 ? dayNames[(v - 12) / 24] : "")
          },
          grid: { drawOnChartArea: false, tickLength: 3, color: "#000" },
          border: { color: "#000", width: 1 },
          title: { display: true, text: "Dag", font: { size: 13, weight: "bold" }, padding: { top: 0, bottom: 3 } }
        },
        y: {
          position: "left", min: p.min, max: p.max,
          afterBuildTicks: s => { s.ticks = p.ticks.map(v => ({ value: v })); },
          afterFit: s => { s.width = 32; },
          ticks: { autoSkip: false, padding: 2, font: { size: 9.5 } },
          grid: { drawOnChartArea: false, tickLength: 3, color: "#000" },
          border: { color: "#000", width: 1 },
          title: { display: true, text: p.unit, font: { family: narrow, size: 13, weight: "bold" }, padding: { top: 3, bottom: 0 } }
        },
        y2: {
          display: true, position: "right", min: p.min, max: p.max,
          afterBuildTicks: s => { s.ticks = minor.map(v => ({ value: v })); },
          afterFit: s => { s.width = 32; },
          ticks: { autoSkip: false, padding: 2, font: { size: 9.5 }, callback: v => p.ticks.includes(v) ? v : "" },
          grid: { drawOnChartArea: false, tickLength: 3, color: "#000" },
          border: { color: "#555", width: 2 }
        }
      }
    },
    plugins: [panelText]
  });
}

makePanel("c1", { name: "Neerslag/6 uur", unit: "mm", min: 0, max: 20, ticks: [0,5,10,15,20], shade: 0.25,
  members: precipMembers, mean: precipMean, control: precipControl, oper: precipOper, refs: precipRefs });
makePanel("c2", { name: "Accum Neerslag", unit: "mm", min: 0, max: 100, ticks: [0,20,40,60,80,100], shade: 0.4,
  members: accumMembers, mean: accumMean, control: accumControl, oper: accumOper });
makePanel("c3", { name: "10m wind", unit: "m/s", min: 0, max: 20, ticks: [0,2,4,6,8,10,12,14,16,18,20], shade: 0.4,
  members: windMembers, mean: windMean, control: windControl, oper: windOper, refs: windRefs });
makePanel("c4", { name: "Windstoten", unit: "m/s", min: 0, max: 40, ticks: [0,5,10,15,20,25,30,35,40], shade: 0.4,
  members: gustMembers, mean: gustMean, control: gustControl, oper: gustOper, refs: gustRefs, warn: gustWarning });
makePanel("c5", { name: "T2m", unit: "Celsius", min: -6, max: 14, ticks: [-5,0,5,10], shade: 0.4,
  members: tempMembers, mean: tempMean, control: tempControl, oper: tempOper, zero: tempZero });
makePanel("c6", { name: "Sneeuwval/6 uur", unit: "cm", min: 0, max: 5, ticks: [0,1,2,3,4,5],
  members: snowMembers, mean: snowMean, control: snowControl, oper: snowOper });
</script>
</body>
</html>
